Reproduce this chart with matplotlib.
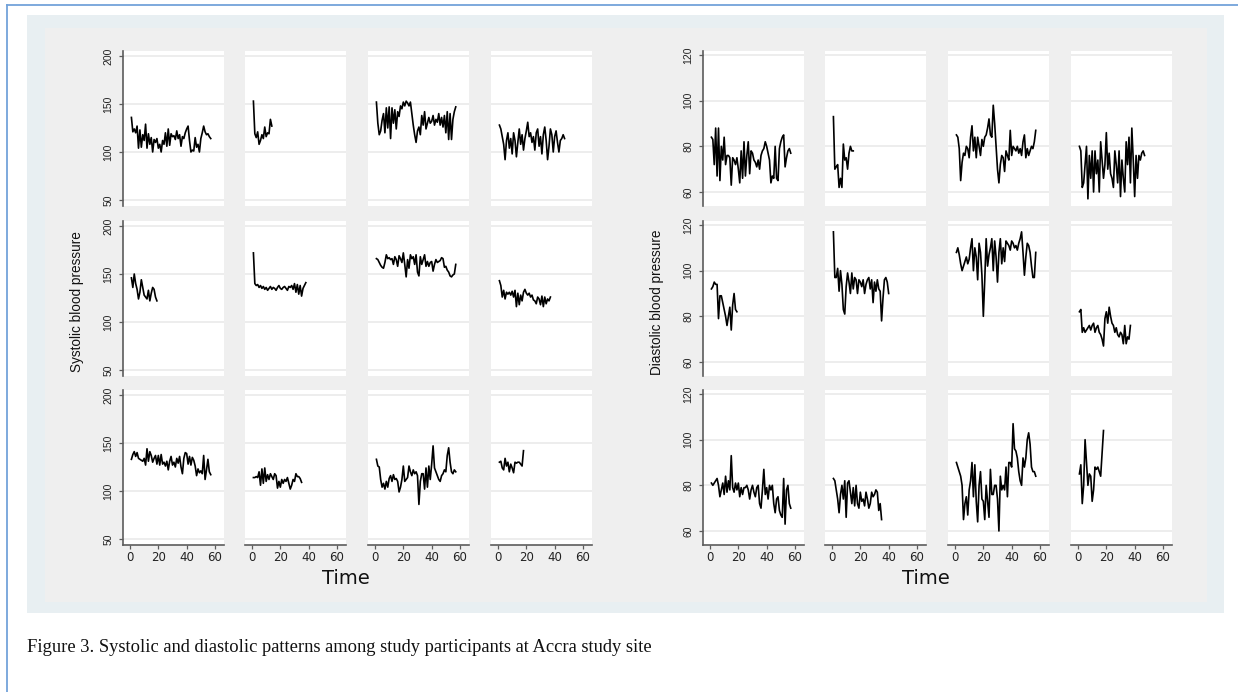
import matplotlib
matplotlib.use('Agg')
import matplotlib.pyplot as plt
from matplotlib.patches import Rectangle
from matplotlib.lines import Line2D
import numpy as np

W, H = 1238, 692

# ---------------- data ----------------
time_ticks = [0, 20, 40, 60]
sbp_ticks = [50, 100, 150, 200]
dbp_ticks = [60, 80, 100, 120]

# Systolic blood pressure, one list per participant (row-major panels)
sbp_p01 = [136, 121, 124, 120, 127, 104, 123, 105, 118, 112, 129, 104, 119, 108, 115, 100, 113, 110, 114, 104,
           108, 100, 112, 108, 120, 106, 124, 107, 119, 116, 117, 113, 122, 114, 118, 106, 116, 114, 120, 124,
           127, 112, 100, 102, 101, 115, 105, 108, 100, 114, 120, 127, 121, 118, 119, 116, 114]
sbp_p02 = [153, 119, 115, 121, 108, 112, 118, 114, 126, 116, 120, 119, 134, 127]
sbp_p03 = [152, 130, 118, 122, 133, 140, 120, 146, 125, 147, 114, 146, 130, 144, 124, 142, 137, 148, 145, 152,
           148, 153, 151, 148, 152, 140, 128, 118, 110, 122, 126, 118, 138, 128, 142, 124, 130, 136, 130, 132,
           138, 128, 134, 131, 140, 128, 136, 126, 138, 120, 142, 113, 140, 113, 134, 142, 147]
sbp_p04 = [128, 124, 116, 108, 92, 112, 120, 104, 114, 98, 120, 112, 95, 110, 124, 108, 118, 102, 114, 122,
           131, 116, 120, 110, 116, 102, 120, 124, 106, 116, 98, 118, 126, 112, 92, 106, 124, 118, 100, 116,
           122, 110, 100, 112, 114, 118, 114]
sbp_p05 = [146, 136, 150, 140, 134, 124, 131, 144, 136, 128, 126, 124, 133, 122, 130, 136, 134, 126, 122]
sbp_p06 = [172, 140, 138, 139, 136, 138, 135, 137, 134, 136, 133, 135, 137, 134, 136, 135, 133, 136, 138, 135,
           134, 136, 137, 135, 133, 137, 136, 138, 134, 140, 131, 139, 129, 138, 127, 135, 138, 141]
sbp_p07 = [166, 165, 162, 159, 157, 156, 162, 170, 166, 167, 165, 166, 160, 168, 165, 158, 169, 166, 162, 172,
           160, 147, 165, 156, 170, 166, 168, 160, 170, 152, 148, 168, 160, 165, 170, 158, 163, 158, 162, 163,
           153, 160, 165, 162, 163, 164, 167, 166, 157, 158, 154, 152, 148, 147, 149, 150, 160]
sbp_p08 = [143, 138, 126, 133, 124, 131, 129, 131, 128, 132, 126, 133, 116, 130, 118, 128, 122, 131, 134, 130,
           128, 130, 126, 128, 123, 122, 119, 126, 124, 118, 127, 116, 126, 119, 124, 122, 126]
sbp_p09 = [133, 138, 141, 136, 140, 134, 133, 132, 131, 134, 127, 144, 131, 141, 137, 130, 134, 137, 128, 137,
           127, 138, 128, 130, 126, 131, 122, 131, 136, 127, 130, 125, 134, 129, 136, 125, 118, 134, 140, 139,
           128, 136, 127, 135, 132, 126, 116, 123, 119, 121, 118, 137, 112, 122, 133, 120, 117]
sbp_p10 = [114, 114, 115, 114, 120, 106, 123, 108, 124, 110, 117, 112, 118, 115, 112, 118, 116, 103, 110, 104,
           112, 108, 112, 110, 114, 108, 102, 106, 112, 110, 118, 115, 115, 113, 109]
sbp_p11 = [133, 126, 125, 112, 104, 108, 102, 110, 104, 113, 116, 110, 117, 112, 113, 110, 99, 104, 112, 126,
           110, 112, 114, 126, 120, 116, 122, 118, 120, 116, 86, 110, 118, 118, 102, 124, 104, 126, 112, 128,
           147, 124, 120, 116, 112, 110, 116, 118, 122, 120, 137, 145, 130, 120, 118, 122, 120]
sbp_p12 = [130, 131, 124, 122, 134, 126, 130, 120, 128, 124, 119, 130, 129, 130, 130, 128, 126, 142]

# Diastolic blood pressure
dbp_p01 = [84, 83, 72, 88, 67, 88, 65, 80, 74, 84, 72, 76, 76, 75, 63, 75, 74, 72, 75, 70,
           64, 78, 66, 82, 67, 76, 82, 68, 78, 77, 74, 73, 71, 74, 70, 76, 78, 79, 82, 80,
           77, 74, 64, 67, 66, 80, 66, 65, 79, 82, 84, 85, 71, 75, 78, 79, 77]
dbp_p02 = [93, 70, 71, 72, 62, 66, 62, 81, 74, 75, 70, 77, 80, 78, 78]
dbp_p03 = [85, 84, 79, 65, 73, 77, 76, 80, 79, 75, 84, 89, 78, 84, 75, 84, 80, 76, 83, 80,
           84, 85, 88, 92, 85, 84, 98, 90, 80, 70, 64, 72, 76, 75, 69, 78, 76, 74, 87, 76,
           80, 79, 78, 80, 77, 79, 76, 82, 85, 75, 79, 76, 78, 80, 79, 82, 87]
dbp_p04 = [80, 78, 62, 64, 72, 80, 57, 76, 66, 78, 60, 78, 68, 74, 60, 82, 74, 66, 72, 86,
           70, 77, 68, 66, 62, 78, 72, 64, 78, 58, 74, 66, 60, 82, 72, 84, 64, 88, 74, 58,
           76, 66, 76, 74, 77, 78, 76]
dbp_p05 = [92, 93, 95, 94, 94, 79, 89, 89, 86, 83, 80, 76, 80, 84, 74, 85, 90, 83, 82]
dbp_p06 = [117, 97, 97, 101, 91, 100, 94, 83, 81, 93, 99, 95, 90, 99, 92, 97, 96, 90, 96, 95,
           93, 96, 90, 94, 96, 97, 92, 96, 86, 95, 91, 96, 92, 91, 78, 88, 96, 97, 95, 90]
dbp_p07 = [108, 110, 107, 103, 100, 102, 104, 106, 103, 105, 110, 114, 100, 110, 106, 96, 112, 108, 98, 80,
           96, 114, 102, 107, 110, 114, 100, 113, 106, 95, 108, 114, 103, 110, 104, 113, 112, 111, 109, 113,
           112, 110, 111, 109, 112, 114, 117, 108, 98, 106, 112, 111, 108, 102, 97, 97, 108]
dbp_p08 = [82, 83, 73, 75, 73, 74, 75, 76, 74, 76, 77, 73, 75, 76, 73, 72, 70, 67, 79, 82,
           77, 84, 80, 77, 76, 73, 75, 72, 71, 73, 72, 68, 76, 68, 71, 70, 76]
dbp_p09 = [81, 80, 81, 82, 83, 80, 75, 78, 81, 76, 84, 77, 82, 78, 93, 79, 77, 81, 78, 81,
           75, 79, 76, 79, 79, 80, 78, 74, 78, 80, 77, 75, 79, 80, 72, 70, 78, 87, 76, 79,
           74, 80, 78, 80, 72, 68, 74, 75, 69, 67, 66, 83, 63, 78, 80, 72, 70]
dbp_p10 = [83, 82, 78, 74, 68, 76, 80, 74, 82, 66, 81, 82, 77, 72, 79, 71, 80, 72, 70, 77,
           73, 74, 71, 77, 74, 70, 72, 77, 75, 76, 78, 77, 69, 72, 65]
dbp_p11 = [90, 88, 86, 84, 80, 65, 72, 75, 67, 78, 82, 90, 75, 89, 73, 64, 80, 86, 74, 73,
           65, 80, 73, 66, 87, 76, 76, 80, 80, 74, 60, 84, 78, 80, 78, 88, 75, 90, 90, 88,
           107, 96, 95, 92, 86, 82, 80, 92, 88, 92, 100, 103, 98, 88, 86, 86, 84]
dbp_p12 = [85, 89, 72, 80, 100, 90, 80, 85, 84, 73, 78, 88, 87, 88, 86, 84, 94, 104]

sbp_series = [sbp_p01, sbp_p02, sbp_p03, sbp_p04, sbp_p05, sbp_p06,
              sbp_p07, sbp_p08, sbp_p09, sbp_p10, sbp_p11, sbp_p12]
dbp_series = [dbp_p01, dbp_p02, dbp_p03, dbp_p04, dbp_p05, dbp_p06,
              dbp_p07, dbp_p08, dbp_p09, dbp_p10, dbp_p11, dbp_p12]

# ---------------- layout ----------------
SANS = ['Liberation Sans', 'DejaVu Sans']
AXIS_COL = '#5c5c5c'

fig = plt.figure(figsize=(W / 100, H / 100), dpi=100)
fig.patch.set_facecolor('white')


def frect(x, y, w, h, color, z=0):
    fig.add_artist(Rectangle((x / W, 1 - (y + h) / H), w / W, h / H, transform=fig.transFigure,
                             facecolor=color, edgecolor='none', zorder=z))


# page border lines
fig.add_artist(Line2D([7 / W, 1.0], [1 - 5 / H, 1 - 5 / H], transform=fig.transFigure,
                      color='#73a3da', lw=1.3, zorder=1))
fig.add_artist(Line2D([7 / W, 7 / W], [0, 1 - 5 / H], transform=fig.transFigure,
                      color='#73a3da', lw=1.3, zorder=1))
# light blue frame and grey graph region
frect(27, 15, 1197, 598, '#e8eff2', z=-3)
frect(45, 28, 1162, 574, '#efefef', z=-2)


def px_axes(x, y, w, h):
    return fig.add_axes([x / W, 1 - (y + h) / H, w / W, h / H])


rows_top = [51, 221, 390]
row_h = 155
col_w = 101
left_cols = [123, 245, 368, 491]
right_cols = [703, 825, 948, 1071]


def draw_block(cols, series, ylim, yticks, ylabel, ylabel_x, time_x):
    for r in range(3):
        for c in range(4):
            ax = px_axes(cols[c], rows_top[r], col_w, row_h)
            ax.set_facecolor('white')
            v = series[r * 4 + c]
            ax.plot(np.arange(1, len(v) + 1), v, color='black', lw=1.2, zorder=3)
            ax.set_xlim(-4.94, 66.35)
            ax.set_ylim(*ylim)
            ax.set_yticks(yticks)
            ax.set_xticks(time_ticks)
            ax.grid(axis='y', color='#ececec', lw=1.3)
            ax.grid(axis='x', visible=False)
            ax.set_axisbelow(True)
            for s in ax.spines.values():
                s.set_visible(False)
            if c == 0:
                ax.spines['left'].set_visible(True)
                ax.spines['left'].set_color(AXIS_COL)
                ax.spines['left'].set_linewidth(1.2)
                ax.tick_params(axis='y', length=3, width=0.9, color=AXIS_COL, labelsize=7.5,
                               pad=4, labelcolor='#222222')
                ax.set_yticklabels([str(t) for t in yticks], rotation=90, va='center',
                                   family=SANS)
            else:
                ax.tick_params(axis='y', left=False, labelleft=False)
            if r == 2:
                ax.spines['bottom'].set_visible(True)
                ax.spines['bottom'].set_color(AXIS_COL)
                ax.spines['bottom'].set_linewidth(1.2)
                ax.tick_params(axis='x', length=3, width=0.9, color=AXIS_COL, labelsize=8.5,
                               pad=1.5, labelcolor='#222222')
                ax.set_xticklabels([str(t) for t in time_ticks], family='DejaVu Sans')
            else:
                ax.tick_params(axis='x', bottom=False, labelbottom=False)
    fig.text(ylabel_x / W, 1 - 302 / H, ylabel, rotation=90, ha='center', va='center',
             fontsize=9.8, family=SANS, color='#111111')
    fig.text(time_x / W, 1 - 579 / H, 'Time', ha='center', va='center',
             fontsize=14, family='DejaVu Sans', color='#111111')


draw_block(left_cols, sbp_series, (43.75, 205.2), sbp_ticks, 'Systolic blood pressure', 77, 346)
draw_block(right_cols, dbp_series, (53.87, 121.75), dbp_ticks, 'Diastolic blood pressure', 657, 926)

fig.text(27 / W, 1 - 648 / H,
         'Figure 3. Systolic and diastolic patterns among study participants at Accra study site',
         ha='left', va='center', fontsize=13.3, family=['Liberation Serif', 'DejaVu Serif'],
         color='#111111')

fig.savefig('out.png', dpi=100, facecolor='white')
